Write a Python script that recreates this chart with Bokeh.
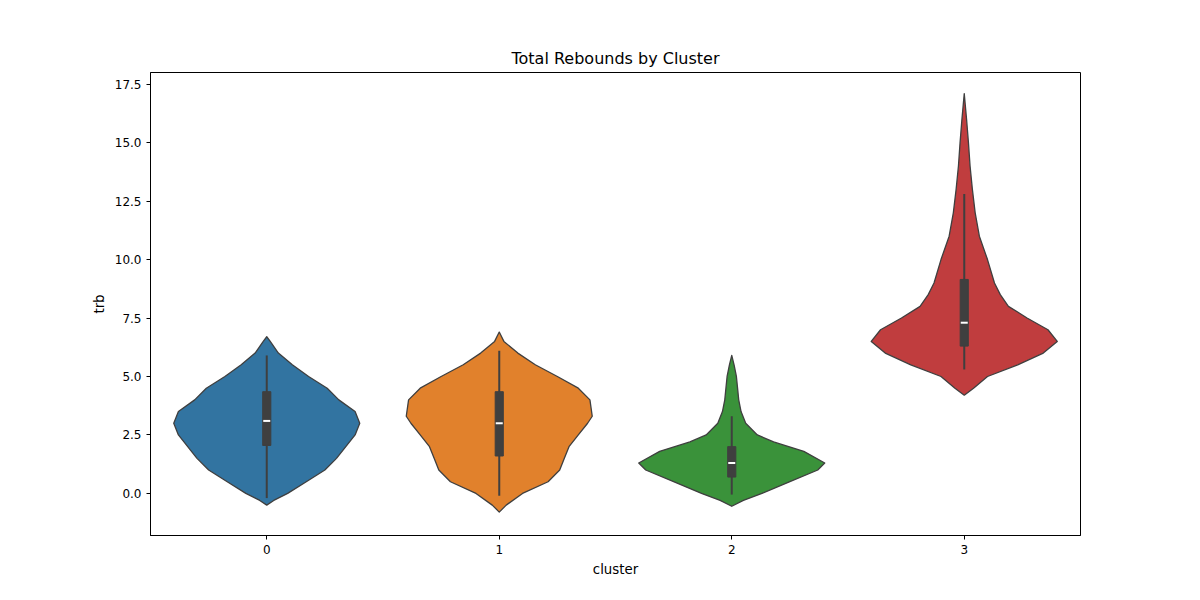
import numpy as np
from bokeh.plotting import figure
from bokeh.models import FixedTicker, NumeralTickFormatter, Range1d
from bokeh.embed import file_html
from bokeh.resources import INLINE

clusters = [0, 1, 2, 3]
colors = ["#3274a1", "#e1812c", "#3a923a", "#c03d3e"]

# violin outlines: value -> half width (in category units)
profile_y = [
    [-0.5, -0.3, 0.0, 0.5, 1.0, 1.5, 2.0, 2.5, 3.0, 3.5, 4.0, 4.5, 5.0, 5.5, 6.0, 6.5, 6.7],
    [-0.8, -0.5, 0.0, 0.5, 1.0, 1.5, 2.0, 2.5, 3.0, 3.3, 4.0, 4.5, 5.0, 5.5, 6.0, 6.5, 6.9],
    [-0.55, -0.3, 0.0, 0.5, 1.0, 1.3, 1.8, 2.2, 2.5, 3.0, 3.5, 4.0, 4.5, 5.0, 5.5, 5.9],
    [4.2, 4.5, 5.0, 5.5, 6.0, 6.5, 7.0, 7.5, 8.0, 8.5, 9.0, 10.0, 11.0, 12.0, 13.0, 14.0, 15.0, 16.0, 17.1],
]
profile_w = [
    [0.0, 0.03, 0.09, 0.17, 0.25, 0.30, 0.34, 0.38, 0.40, 0.38, 0.31, 0.26, 0.18, 0.11, 0.05, 0.015, 0.0],
    [0.0, 0.03, 0.10, 0.21, 0.26, 0.28, 0.30, 0.34, 0.38, 0.40, 0.39, 0.34, 0.25, 0.155, 0.08, 0.02, 0.0],
    [0.0, 0.05, 0.13, 0.25, 0.37, 0.40, 0.31, 0.18, 0.11, 0.06, 0.04, 0.03, 0.025, 0.02, 0.01, 0.0],
    [0.0, 0.04, 0.10, 0.23, 0.34, 0.40, 0.36, 0.27, 0.19, 0.155, 0.13, 0.10, 0.065, 0.047, 0.035, 0.025, 0.018, 0.01, 0.0],
]
q1 = [2.05, 1.6, 0.7, 6.3]
q3 = [4.35, 4.35, 2.0, 9.15]
median = [3.1, 3.0, 1.3, 7.3]
whisk_lo = [-0.2, -0.1, -0.05, 5.3]
whisk_hi = [5.9, 6.1, 3.3, 12.8]

p = figure(width=1184, height=584, output_backend="svg", toolbar_location=None,
           title="Total Rebounds by Cluster",
           x_range=Range1d(-0.5, 3.5), y_range=Range1d(-1.8, 18.0),
           x_axis_label="cluster", y_axis_label="trb",
           min_border_left=150, min_border_right=104, min_border_top=72, min_border_bottom=49)

for c, col, ys, ws in zip(clusters, colors, profile_y, profile_w):
    ys = np.array(ys)
    ws = np.array(ws)
    xs = np.concatenate([c - ws, (c + ws)[::-1]])
    yy = np.concatenate([ys, ys[::-1]])
    p.patch(xs, yy, fill_color=col, line_color="#3f3f3f", line_width=1.3, line_join="round")

p.segment(x0=clusters, y0=whisk_lo, x1=clusters, y1=whisk_hi, line_color="#3f3f3f", line_width=2)
p.vbar(x=clusters, bottom=q1, top=q3, width=0.035, fill_color="#3f3f3f", line_color="#3f3f3f")
p.scatter(x=clusters, y=median, marker="dash", size=7, line_color="white", line_width=2)

p.title.align = "center"
p.title.text_font = "DejaVu Sans"
p.title.text_font_size = "12pt"
p.title.text_font_style = "normal"
p.title.text_color = "black"
p.xgrid.visible = False
p.ygrid.visible = False
p.outline_line_color = "black"
p.xaxis.ticker = FixedTicker(ticks=clusters)
p.yaxis.ticker = FixedTicker(ticks=[0, 2.5, 5, 7.5, 10, 12.5, 15, 17.5])
p.yaxis.formatter = NumeralTickFormatter(format="0.0")
for ax in (p.xaxis, p.yaxis):
    ax.axis_label_text_font = "DejaVu Sans"
    ax.axis_label_text_font_style = "normal"
    ax.axis_label_text_font_size = "10pt"
    ax.axis_label_text_color = "black"
    ax.major_label_text_font = "DejaVu Sans"
    ax.major_label_text_font_size = "9pt"
    ax.major_label_text_color = "black"
    ax.minor_tick_line_color = None
    ax.axis_line_color = "black"
    ax.major_tick_line_color = "black"
    ax.major_tick_out = 4
    ax.major_tick_in = 0

open("out.html", "w").write(file_html(p, INLINE))
